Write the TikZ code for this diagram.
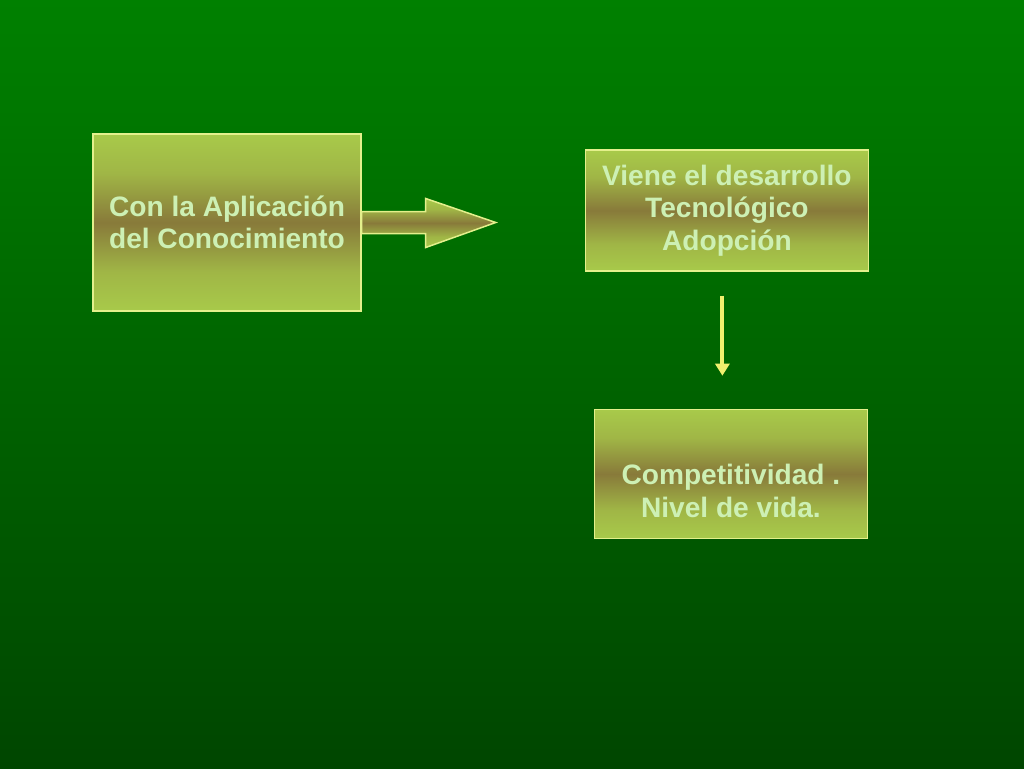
\documentclass[tikz,border=0pt]{standalone}
\usepackage{fontspec}
\setmainfont{Liberation Sans}
\usepackage{xcolor}
\usetikzlibrary{arrows.meta,positioning}

\definecolor{fondoarriba}{RGB}{0,128,0}
\definecolor{fondoabajo}{RGB}{0,70,0}
\definecolor{cajaclara}{RGB}{168,202,74}
\definecolor{cajaoscura}{RGB}{136,122,58}
\definecolor{borde}{RGB}{228,240,140}
\definecolor{letraverde}{RGB}{205,240,180}
\definecolor{amarillo}{RGB}{240,240,110}

\pgfdeclareverticalshading{oliva}{100bp}{color(0bp)=(cajaclara); color(25bp)=(cajaclara); color(36bp)=(cajaclara!75!cajaoscura); color(50bp)=(cajaoscura); color(64bp)=(cajaclara!75!cajaoscura); color(75bp)=(cajaclara); color(100bp)=(cajaclara)}

\tikzset{
  letra/.style={text=letraverde, font=\bfseries\fontsize{16}{18.5}\selectfont, align=center},
  caja/.style={draw=borde, line width=0.85pt, shading=oliva, letra},
  flechabloque/.style={draw=borde, line width=0.85pt, shading=oliva},
  flecha/.style={draw=amarillo, line width=2.2pt, -{Triangle[width=0.28cm,length=0.24cm]}}
}

\begin{document}
\begin{tikzpicture}[x=0.02cm, y=-0.02cm]
\shade[top color=fondoarriba, bottom color=fondoabajo] (0,0) rectangle (1024,768);

\node (aplicacion) [caja, minimum width=5.36cm, minimum height=3.54cm] at (227,222.5) {Con la Aplicación\\del Conocimiento};
\node (desarrollo) [caja, minimum width=5.66cm, minimum height=2.42cm, right=4.46cm of aplicacion, yshift=0.24cm] {Viene el desarrollo \\Tecnológico\\Adopción};
\node (competitividad) [caja, minimum width=5.46cm, minimum height=2.58cm, below=2.74cm of desarrollo, xshift=0.08cm,
  label={[letra, yshift=-0.34cm]center:{Competitividad .\\Nivel de vida.}}] {};

\path[flechabloque] (aplicacion.east) ++(0,-11) -- ++(64,0) -- ++(0,-13) -- ++(70,24) -- ++(-70,25) -- ++(0,-14) -- ++(-64,0) -- cycle;
\draw[flecha, shorten <=0.48cm, shorten >=0.66cm] ([xshift=-0.09cm]desarrollo.south) -- ([xshift=-0.09cm]desarrollo.south |- competitividad.north);
\end{tikzpicture}
\end{document}
